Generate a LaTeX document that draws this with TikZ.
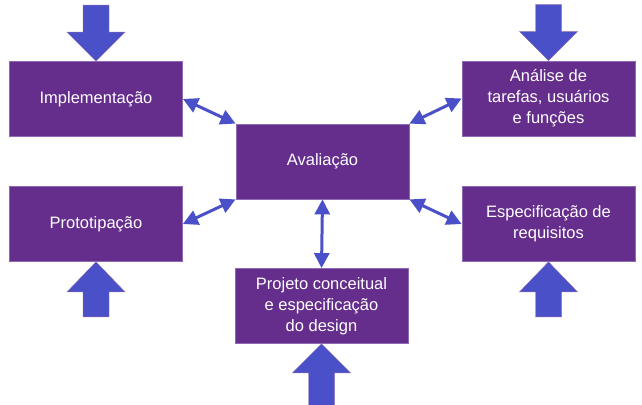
\documentclass[tikz,border=0pt]{standalone}
\usepackage{fontspec}
\setmainfont{Liberation Sans}
\usetikzlibrary{arrows.meta}
\definecolor{boxpurple}{HTML}{652D8C}
\definecolor{boxedge}{HTML}{8C6AB4}
\definecolor{arrowblue}{HTML}{4A50C8}

\begin{document}
\begin{tikzpicture}[x=1pt,y=-1pt]
    \tikzstyle{stage} = [draw=boxedge,line width=0.8pt,fill=boxpurple,text=white,align=center,
                         minimum width=173pt,minimum height=75pt,inner sep=0pt,
                         font=\fontsize{16.5}{21}\selectfont]
    \tikzstyle{line} = [draw=arrowblue,line width=3pt,
                        {Triangle[length=15pt,width=15pt]}-{Triangle[length=15pt,width=15pt]}]
    \tikzstyle{bigarrow} = [fill=arrowblue,draw=boxedge,line width=0.4pt]

    \useasboundingbox (0,0) rectangle (642,404);

        \node[stage] (IM) at (96, 99) {Implementa\c{c}\~ao};
        \node[stage] (PT) at (96, 224) {Prototipa\c{c}\~ao};
        \node[stage] (AV) at (322.5, 161.5) {Avalia\c{c}\~ao};
        \node[stage] (PC) at (321.5, 306) {Projeto conceitual\\e especifica\c{c}\~ao\\do design};
        \node[stage] (AT) at (548.5, 98.5) {An\'alise de\\tarefas, usu\'arios\\e fun\c{c}\~oes};
        \node[stage] (ER) at (548.5, 224) {Especifica\c{c}\~ao de\\requisitos};

    % entry arrows from above
    \foreach \n in {IM, AT}
        \filldraw[bigarrow] (\n.north) -- ++(-29,-29) -- ++(16,0) -- ++(0,-27) -- ++(26,0)
                            -- ++(0,27) -- ++(16,0) -- cycle;
    % entry arrows from below
    \foreach \n in {PT, ER}
        \filldraw[bigarrow] (\n.south) -- ++(-29,30) -- ++(16,0) -- ++(0,25) -- ++(26,0)
                            -- ++(0,-25) -- ++(16,0) -- cycle;
    \filldraw[bigarrow] (PC.south) -- ++(-29,29) -- ++(16,0) -- ++(0,35) -- ++(26,0)
                        -- ++(0,-35) -- ++(16,0) -- cycle;

    \draw[line] (IM.east) -- (AV.north west);
    \draw[line] (PT.east) -- (AV.south west);
    \draw[line] (AT.west) -- (AV.north east);
    \draw[line] (ER.west) -- (AV.south east);
    \draw[line] (AV.south) -- (PC.north);

\end{tikzpicture}
\end{document}
